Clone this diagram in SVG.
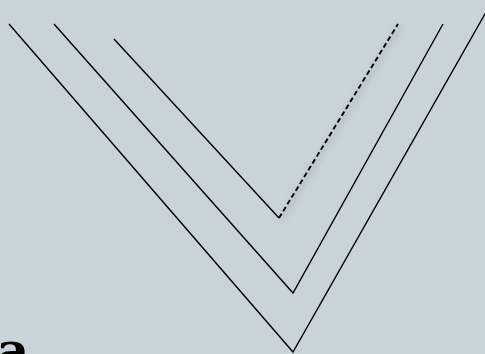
<svg xmlns="http://www.w3.org/2000/svg" width="485" height="354" viewBox="0 0 485 354">
<defs>
<style>
.v{fill:none;stroke:#000;stroke-width:1.4;stroke-linejoin:miter}
.d{fill:none;stroke:#000;stroke-width:1.9;stroke-dasharray:5 3}
</style>
<filter id="sh" x="-20%" y="-20%" width="140%" height="140%"><feGaussianBlur stdDeviation="3"/></filter>
</defs>
<rect width="485" height="354" fill="#c8d3da"/>
<g id="connectors">
<polyline id="outer" class="v" points="9,24 293,352 490,5"/>
<polyline id="middle" class="v" points="54,24 293,293 443,24"/>
<polyline id="inner-left" class="v" points="114,39 279,218"/>
<line x1="281" y1="220" x2="400" y2="26" stroke="#8f9aa2" stroke-width="3" opacity="0.5" filter="url(#sh)"/>
<line id="inner-right" class="d" x1="279" y1="218" x2="398" y2="24"/>
</g>
<g id="label"><text x="-3" y="368" font-family="DejaVu Serif, serif" font-weight="bold" font-size="50" fill="#000">a</text></g>
</svg>
